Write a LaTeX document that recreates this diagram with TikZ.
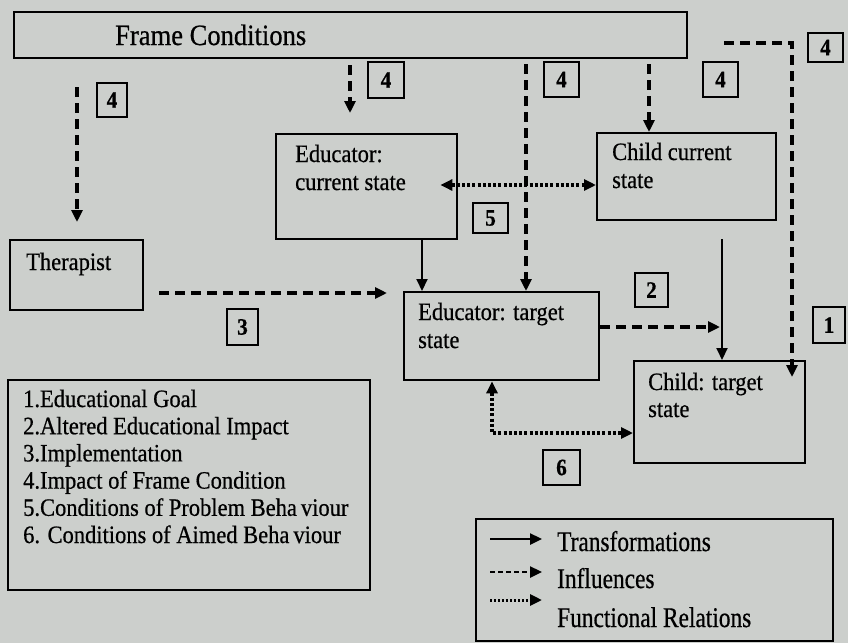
\documentclass[tikz,border=0pt]{standalone}
\usepackage{fontspec}
\setmainfont{Liberation Serif}[FakeStretch=0.9, FakeBold=0.6]
\newfontfamily\legfont[FakeStretch=0.82, FakeBold=0.6]{Liberation Serif}
\usetikzlibrary{arrows.meta}
\definecolor{bg}{RGB}{204,207,204}
\begin{document}
\begin{tikzpicture}[x=1pt,y=-1pt,
 box/.style={draw, line width=2.4pt, anchor=north west, inner sep=0pt},
 txt/.style={anchor=base west, inner sep=0pt, font=\fontsize{25}{30}\selectfont},
 legtxt/.style={anchor=base west, inner sep=0pt, font=\legfont\fontsize{28.5}{32}\selectfont},
 lbl/.style={draw, line width=2.2pt, inner sep=0pt, font=\bfseries\fontsize{23.5}{23.5}\selectfont},
 arrowhd/.style={-{Triangle[length=12pt,width=11pt]}},
 trans/.style={line width=2pt, arrowhd},
 infl/.style={line width=3.2pt, dash pattern=on 10pt off 6pt, arrowhd},
 func/.style={line width=3.6pt, dash pattern=on 3pt off 2.2pt, {Triangle[length=12pt,width=11pt]}-{Triangle[length=12pt,width=11pt]}},
]
\useasboundingbox (0,0) rectangle (848,643);
\fill[bg] (0,0) rectangle (848,643);

% boxes
\node[box, minimum width=673pt, minimum height=46pt] (frame) at (13,11) {};
\node[box, minimum width=181pt, minimum height=105pt] (ecs) at (275,133) {};
\node[box, minimum width=179pt, minimum height=87pt] (ccs) at (596,132) {};
\node[box, minimum width=133pt, minimum height=70pt] (ther) at (9,239) {};
\node[box, minimum width=195pt, minimum height=88pt] (ets) at (403,291) {};
\node[box, minimum width=171pt, minimum height=102pt] (cts) at (633,360) {};
\node[box, minimum width=362pt, minimum height=210pt] (list) at (7,379) {};
\node[box, minimum width=357pt, minimum height=122pt] (leg) at (475,518) {};

% box texts
\node[anchor=base west, inner sep=0pt, font=\fontsize{29.5}{33}\selectfont] (tframe) at (115,45) {Frame Conditions};
\node[txt] (tecs1) at (295,162) {Educator:};
\node[txt] (tecs2) at (295,190) {current state};
\node[txt] (tccs1) at (612,160) {Child current};
\node[txt] (tccs2) at (612,188) {state};
\node[txt] (tther) at (26,270) {Therapist};
\node[txt] (tets1) at (418,320) {Educator: target};
\node[txt] (tets2) at (418,348) {state};
\node[txt] (tcts1) at (648,390) {Child: target};
\node[txt] (tcts2) at (648,417) {state};

% list
\node[txt] (l1) at (23,407) {1.Educational Goal};
\node[txt] (l2) at (23,434.2) {2.Altered Educational Impact};
\node[txt] (l3) at (23,461.4) {3.Implementation};
\node[txt] (l4) at (23,488.6) {4.Impact of Frame Condition};
\node[txt] (l5) at (23,515.8) {5.Conditions of Problem Beha\kern4pt viour};
\node[txt] (l6) at (23,543) {6. Conditions of Aimed Beha\kern4pt viour};

% legend
\coordinate (s1) at (490,539); \coordinate (e1) at (542,539);
\coordinate (s2) at (490,572); \coordinate (e2) at (542,572);
\coordinate (s3) at (490,600); \coordinate (e3) at (542,600);
\draw[line width=2.4pt, arrowhd] (s1) -- (e1);
\draw[line width=2.4pt, dash pattern=on 5pt off 3pt, arrowhd] (s2) -- (e2);
\draw[line width=3pt, dash pattern=on 2.2pt off 1.8pt, arrowhd] (s3) -- (e3);
\node[legtxt] (g1) at (557,551) {Transformations};
\node[legtxt] (g2) at (557,588) {Influences};
\node[legtxt] (g3) at (557,627) {Functional Relations};

% helper coordinates
\coordinate (x77) at (77,0);
\coordinate (x350) at (350,0);
\coordinate (x526) at (526,0);
\coordinate (x649) at (649,0);
\coordinate (r1) at (792,43);
\coordinate (y185) at (0,185);
\coordinate (x422) at (422,0);
\coordinate (y293) at (0,293);
\coordinate (y327) at (0,327);
\coordinate (j2) at (720,327);
\coordinate (x722) at (722,0);
\coordinate (x492) at (492,0);
\coordinate (y433) at (0,433);

% influences from frame conditions
\draw[infl, shorten <=28pt, shorten >=17pt] (frame.south -| x77) -- (ther.north -| x77);
\draw[infl, shorten <=6pt, shorten >=20pt] (frame.south -| x350) -- (ecs.north -| x350);
\draw[infl, shorten <=5pt] (frame.south -| x526) -- (ets.north -| x526);
\draw[infl, shorten <=5pt] (frame.south -| x649) -- (ccs.north -| x649);
\draw[infl, shorten <=36pt, shorten >=-17pt] (frame.east |- r1) -- (r1) -- (cts.north -| r1);

% other connectors
\draw[func, shorten <=-18pt] (ecs.east |- y185) -- (ccs.west |- y185);
\draw[trans] (ecs.south -| x422) -- (ets.north -| x422);
\draw[infl, shorten <=15pt, shorten >=16pt] (ther.east |- y293) -- (ets.west |- y293);
\draw[infl] (ets.east |- y327) -- (j2);
\draw[trans, shorten <=18pt] (ccs.south -| x722) -- (cts.north -| x722);
\draw[func] (ets.south -| x492) |- (cts.west |- y433);

% number labels
\node[lbl, minimum width=30pt, minimum height=34pt] (n4a) at (112,100) {4};
\node[lbl, minimum width=36pt, minimum height=36pt] (n4b) at (386,80) {4};
\node[lbl, minimum width=35pt, minimum height=35pt] (n4c) at (561.5,79.5) {4};
\node[lbl, minimum width=35pt, minimum height=35pt] (n4d) at (720.5,79.5) {4};
\node[lbl, minimum width=35pt, minimum height=29pt] (n4e) at (825.5,47.5) {4};
\node[lbl, minimum width=35pt, minimum height=30pt] (n5) at (490.5,218) {5};
\node[lbl, minimum width=31pt, minimum height=36pt] (n3) at (242.5,327) {3};
\node[lbl, minimum width=33pt, minimum height=34pt] (n2) at (651.5,290) {2};
\node[lbl, minimum width=32pt, minimum height=36pt] (n1) at (829,325) {1};
\node[lbl, minimum width=37pt, minimum height=35pt] (n6) at (561.5,467.5) {6};
\end{tikzpicture}
\end{document}
